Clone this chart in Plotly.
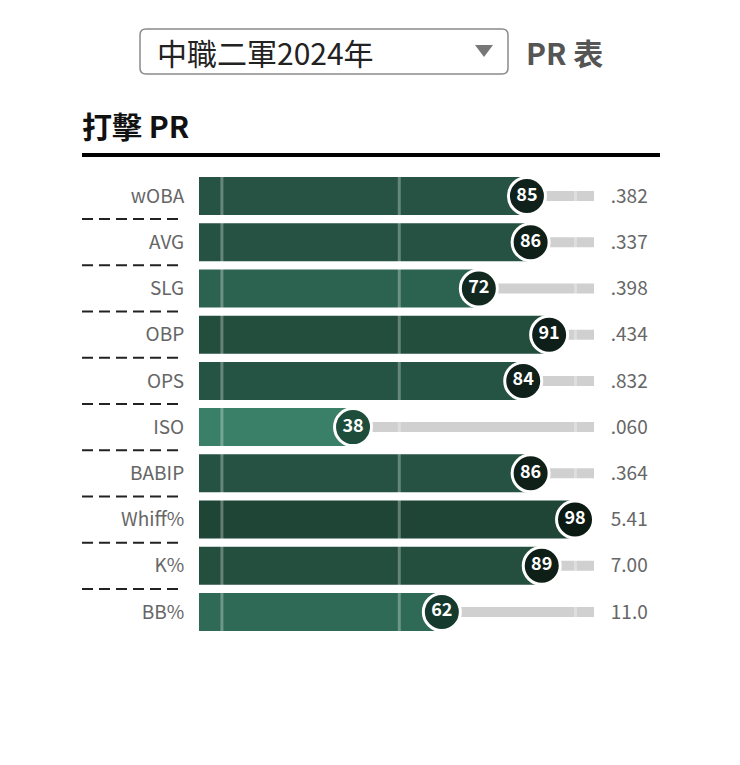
import plotly.graph_objects as go

W, H = 740, 765
FONT = "Noto Sans CJK TC"
OFF = 8  # the page body adds an 8px margin, pull everything back by that

# batting percentile ranks (中職二軍 2024)
stats = ["wOBA", "AVG", "SLG", "OBP", "OPS", "ISO", "BABIP", "Whiff%", "K%", "BB%"]
pr = [85, 86, 72, 91, 84, 38, 86, 98, 89, 62]
raw = [".382", ".337", ".398", ".434", ".832", ".060", ".364", "5.41", "7.00", "11.0"]

# colours, one per row
bar_colors = ["#265343", "#255242", "#2c6350", "#234d3d", "#265444",
              "#3a7f67", "#255242", "#1f4536", "#244e3e", "#2e6a55"]
dot_colors = ["#0f211a", "#0f2019", "#12291f", "#0e1e18", "#0f211a",
              "#1f4d3c", "#0f2019", "#0c1a14", "#0e1f18", "#163a2d"]
guides = [5.8, 50.7, 95.3]


def px(x):
    return (x - OFF) / W


def py(y):
    return 1 - (y - OFF) / H


rows = list(range(len(stats)))
# the dot sits inside the track, so 0..100 maps onto a slightly shorter span
pos = [3.4 + v * 0.9367 for v in pr]

fig = go.Figure()

# grey track behind everything
fig.add_trace(go.Bar(x=[100] * len(rows), y=rows, orientation="h", width=0.216,
                     marker=dict(color="#d0d0d0", line_width=0), hoverinfo="skip"))
# green PR bars
fig.add_trace(go.Bar(x=pos, y=rows, orientation="h", width=0.822,
                     marker=dict(color=bar_colors, line_width=0), hoverinfo="skip"))

# light vertical guide stripes
gx, gy = [], []
for g in guides:
    gx += [g, g, None]
    gy += [-0.42, len(rows) - 1 + 0.42, None]
fig.add_trace(go.Scatter(x=gx, y=gy, mode="lines", hoverinfo="skip",
                         line=dict(color="rgba(255,255,255,0.3)", width=3)))

# PR circles
fig.add_trace(go.Scatter(x=pos, y=rows, mode="markers+text", cliponaxis=False,
                         text=[str(v) for v in pr], textposition="middle center",
                         textfont=dict(family=FONT, size=18, color="white", weight="bold"),
                         marker=dict(size=37, color=dot_colors, line=dict(color="white", width=3)),
                         hoverinfo="skip"))

# invisible trace so the right-hand axis carries the raw values
fig.add_trace(go.Scatter(x=[None], y=[None], yaxis="y2", showlegend=False, hoverinfo="skip"))

shapes = []
# dashed separators between row labels
for i in rows[:-1]:
    shapes.append(dict(type="line", xref="paper", yref="y", x0=px(82), x1=px(180),
                       y0=i + 0.5, y1=i + 0.5, line=dict(color="#222", width=2, dash="11px,6px")))
# heading rule
shapes.append(dict(type="line", xref="paper", yref="paper", x0=px(82), x1=px(660),
                   y0=py(155), y1=py(155), line=dict(color="black", width=4)))

# dropdown box with rounded corners
x0, x1, y0, y1, r = 140, 508, 29, 74, 6
path = (f"M {px(x0 + r)} {py(y0)} L {px(x1 - r)} {py(y0)} Q {px(x1)} {py(y0)} {px(x1)} {py(y0 + r)} "
        f"L {px(x1)} {py(y1 - r)} Q {px(x1)} {py(y1)} {px(x1 - r)} {py(y1)} "
        f"L {px(x0 + r)} {py(y1)} Q {px(x0)} {py(y1)} {px(x0)} {py(y1 - r)} "
        f"L {px(x0)} {py(y0 + r)} Q {px(x0)} {py(y0)} {px(x0 + r)} {py(y0)} Z")
shapes.append(dict(type="path", xref="paper", yref="paper", path=path,
                   line=dict(color="#8a8a8a", width=1.5), fillcolor="white"))
shapes.append(dict(type="path", xref="paper", yref="paper",
                   path=f"M {px(475)} {py(45)} L {px(493)} {py(45)} L {px(484)} {py(57)} Z",
                   line=dict(width=0), fillcolor="#777"))

annotations = [
    dict(text="中職二軍2024年", x=px(155), y=py(52), xref="paper", yref="paper",
         xanchor="left", yanchor="middle", showarrow=False,
         font=dict(family=FONT, size=30, color="#222")),
    dict(text="<b>PR 表</b>", x=px(524), y=py(52), xref="paper", yref="paper",
         xanchor="left", yanchor="middle", showarrow=False,
         font=dict(family=FONT, size=30, color="#555")),
    dict(text="<b>打擊 PR</b>", x=px(80), y=py(125), xref="paper", yref="paper",
         xanchor="left", yanchor="middle", showarrow=False,
         font=dict(family=FONT, size=30, color="#111")),
]

ydom = [py(635.1), py(172.9)]
fig.update_layout(
    width=W, height=H, margin=dict(l=0, r=0, t=0, b=0),
    paper_bgcolor="white", plot_bgcolor="white",
    barmode="overlay", showlegend=False,
    font=dict(family=FONT),
    xaxis=dict(domain=[px(199), px(594)], range=[0, 100], visible=False, fixedrange=True),
    yaxis=dict(domain=ydom, range=[len(rows) - 0.5, -0.5], tickvals=rows, ticktext=stats,
               ticks="outside", ticklen=10, tickcolor="rgba(0,0,0,0)",
               tickfont=dict(family=FONT, size=19, color="#666"),
               showgrid=False, zeroline=False, showline=False, fixedrange=True),
    yaxis2=dict(overlaying="y", side="right", anchor="x", range=[len(rows) - 0.5, -0.5],
                tickvals=rows, ticktext=raw, ticks="outside", ticklen=12,
                tickcolor="rgba(0,0,0,0)", tickfont=dict(family=FONT, size=19, color="#666"),
                showgrid=False, zeroline=False, showline=False, fixedrange=True),
    shapes=shapes, annotations=annotations,
)

fig.write_html("out.html")
